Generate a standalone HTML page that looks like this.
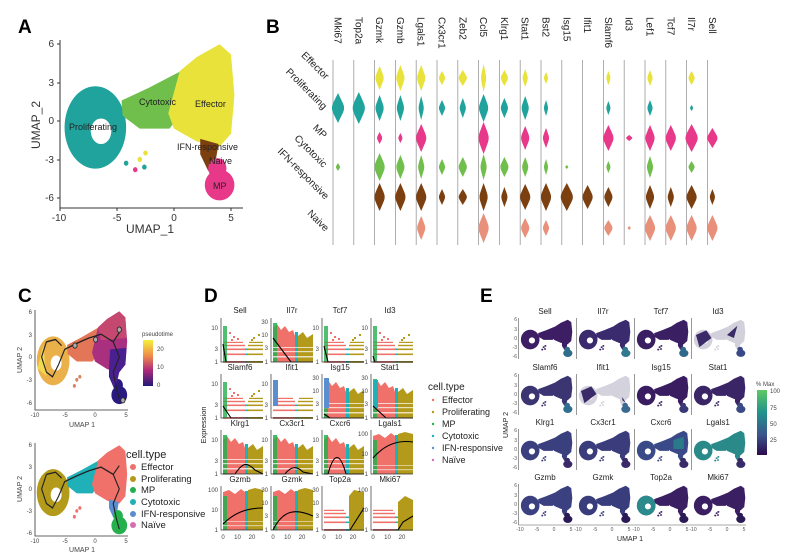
<!DOCTYPE html>
<html><head><meta charset="utf-8"><style>
html,body{margin:0;padding:0;background:#fff;}
svg{display:block;font-family:"Liberation Sans",Arial,sans-serif;}
</style></head><body>
<svg width="800" height="559" viewBox="0 0 800 559" xmlns="http://www.w3.org/2000/svg">
<defs>
<g id="ring"><path fill-rule="evenodd" d="M-9.6,-0.5 a2.6,3.1 0 1,0 5.4,0 a2.6,3.1 0 1,0 -5.4,0 Z M-7.3,-0.8 a0.9,1 0 1,0 1.8,0 a0.9,1 0 1,0 -1.8,0 Z"/></g>
<g id="cyto"><path d="M-4.6,1.6 L-2.2,2.6 L0.6,3.9 L1,1 L-0.4,-0.6 L-3,-0.6 L-4.5,0.4 Z"/></g>
<g id="eff"><path d="M0.5,3.9 L2,5 L4,6 L5,5.2 L5.3,2 L5,-1 L4,-2 L2,-1.6 L0,-0.6 L-0.5,0.6 Z"/></g>
<g id="ifn"><path d="M2.3,-1.4 L3.9,-1.8 L3.6,-3.4 L3,-3.9 L2.3,-2.6 Z"/></g>
<g id="mp"><ellipse cx="4" cy="-5" rx="1.3" ry="1.2"/><ellipse cx="3.8" cy="-3.7" rx="0.8" ry="0.8"/></g>
<g id="um"><use href="#ring"/><use href="#cyto"/><use href="#eff"/><use href="#ifn"/><use href="#mp"/>
<circle cx="-3" cy="-3" r="0.3"/><circle cx="-2.5" cy="-2.6" r="0.3"/><circle cx="-3.4" cy="-3.8" r="0.3"/><circle cx="-2.6" cy="-3.6" r="0.3"/></g>
<path id="v" d="M0,-1 C0.6,-0.5 1.1,-0.15 1,0 C1.1,0.15 0.6,0.5 0,1 C-0.6,0.5 -1.1,0.15 -1,0 C-1.1,-0.15 -0.6,-0.5 0,-1Z"/>
<linearGradient id="pt" x1="0" y1="0" x2="0" y2="1"><stop offset="0" stop-color="#f5f03a"/><stop offset="0.35" stop-color="#ee8a4a"/><stop offset="0.65" stop-color="#b02a7a"/><stop offset="1" stop-color="#221a78"/></linearGradient>
<linearGradient id="vm" x1="0" y1="0" x2="0" y2="1"><stop offset="0" stop-color="#5ec962"/><stop offset="0.35" stop-color="#21918c"/><stop offset="0.7" stop-color="#3b528b"/><stop offset="1" stop-color="#2d0a4e"/></linearGradient>
<!-- D scatter variants (local 42x44) -->
<g id="stripes">
<rect x="2" y="43" width="22" height="1.8" fill="#f0706a"/><rect x="24" y="43" width="3" height="1.8" fill="#1fb0b8"/><rect x="27" y="43" width="15" height="1.8" fill="#b39a1a"/>
<rect x="2" y="35.5" width="22" height="1.6" fill="#f0706a"/><rect x="24" y="35.5" width="3" height="1.6" fill="#1fb0b8"/><rect x="27" y="35.5" width="15" height="1.6" fill="#b39a1a"/>
<rect x="2" y="30.5" width="22" height="1.6" fill="#f0706a"/><rect x="24" y="30.5" width="3" height="1.6" fill="#1fb0b8"/><rect x="27" y="30.5" width="15" height="1.6" fill="#b39a1a"/>
<rect x="2" y="26.8" width="22" height="1.4" fill="#f0706a"/><rect x="27" y="26.8" width="15" height="1.4" fill="#b39a1a"/>
<rect x="2" y="23.8" width="20" height="1.2" fill="#f0706a"/><rect x="28" y="23.8" width="14" height="1.2" fill="#b39a1a"/>
</g>
<g id="ds"><use href="#stripes"/>
<rect x="2" y="8" width="4" height="36" fill="#24b04c" opacity="0.8"/>
<g fill="#f0706a"><rect x="8" y="14" width="2" height="2"/><rect x="12" y="18" width="2" height="2"/><rect x="16" y="20" width="2" height="2"/><rect x="10" y="21" width="2" height="2"/></g>
<g fill="#b39a1a"><rect x="32" y="19" width="2" height="2"/><rect x="37" y="16" width="2" height="2"/><rect x="30" y="21" width="2" height="2"/></g>
</g>
<g id="dm"><path d="M2,44 L2,10 L6,6 L10,12 L14,8 L18,14 L22,12 L24,18 L24,44 Z" fill="#f0706a"/>
<path d="M24,44 V14 H27 V44Z" fill="#1fb0b8"/><path d="M27,44 V18 L32,14 L36,20 L42,16 V44 Z" fill="#b39a1a"/>
<rect x="2" y="5" width="4" height="39" fill="#24b04c" opacity="0.85"/>
<g fill="#fff" opacity="0.7"><rect x="2" y="38" width="40" height="1.5"/><rect x="2" y="33" width="40" height="1.2"/><rect x="2" y="29" width="40" height="1"/></g></g>
<g id="dd"><path d="M2,44 L2,6 L8,4 L14,8 L20,3 L24,6 L24,44 Z" fill="#f0706a"/>
<path d="M24,44 V5 H27 V44Z" fill="#1fb0b8"/><path d="M27,44 V4 L34,2 L42,4 V44 Z" fill="#b39a1a"/>
<rect x="2" y="10" width="4" height="34" fill="#24b04c" opacity="0.85"/>
<g fill="#fff" opacity="0.5"><rect x="2" y="39" width="40" height="1.2"/><rect x="2" y="35" width="40" height="1"/></g></g>
</defs>

<!-- Panel labels -->
<g font-weight="bold" font-size="19" fill="#000">
<text x="18" y="33">A</text><text x="266" y="33">B</text><text x="18" y="302">C</text><text x="204" y="302">D</text><text x="480" y="302">E</text>
</g>

<!-- Panel A -->
<g transform="translate(174,121) scale(11.4,-12.8)">
<use href="#ring" fill="#1fa39c"/><use href="#cyto" fill="#70bf4c"/><use href="#eff" fill="#e8e23a"/><use href="#ifn" fill="#7b3f10"/><use href="#mp" fill="#e8388a"/>
<circle cx="-3" cy="-3" r="0.2" fill="#e8e23a"/><circle cx="-2.5" cy="-2.5" r="0.2" fill="#e8e23a"/><circle cx="-3.4" cy="-3.8" r="0.2" fill="#e8388a"/><circle cx="-2.6" cy="-3.6" r="0.2" fill="#1fa39c"/><circle cx="-4.2" cy="-3.3" r="0.2" fill="#1fa39c"/>
</g>
<g stroke="#333" stroke-width="1" fill="none"><path d="M60,40 V208 H243"/>
<path d="M57,44 h3 M57,83 h3 M57,121 h3 M57,160 h3 M57,198 h3 M60,208 v3 M117,208 v3 M174,208 v3 M231,208 v3"/></g>
<g font-size="10" fill="#333" text-anchor="end"><text x="54" y="47">6</text><text x="54" y="86">3</text><text x="54" y="124">0</text><text x="54" y="163">-3</text><text x="54" y="201">-6</text></g>
<g font-size="10" fill="#333" text-anchor="middle"><text x="59" y="221">-10</text><text x="117" y="221">-5</text><text x="174" y="221">0</text><text x="231" y="221">5</text>
<text x="150" y="233" font-size="12">UMAP_1</text><text transform="translate(40,125) rotate(-90)" font-size="12">UMAP_2</text></g>
<g font-size="9" fill="#222"><text x="69" y="130">Proliferating</text><text x="139" y="105">Cytotoxic</text><text x="195" y="107">Effector</text><text x="177" y="150">IFN-responsive</text><text x="209" y="164">Naive</text><text x="213" y="189">MP</text></g>

<!-- Panel B -->
<path d="M333,60V245h0M353.8,60V245M374.6,60V245M395.4,60V245M416.2,60V245M437,60V245M457.8,60V245M478.6,60V245M499.4,60V245M520.2,60V245M541,60V245M561.8,60V245M582.6,60V245M603.4,60V245M624.2,60V245M645,60V245M665.8,60V245M686.6,60V245M707.4,60V245" stroke="#999" stroke-width="0.8" fill="none"/>
<g font-size="10" fill="#222">
<text transform="translate(334.5,17) rotate(90)">Mki67</text><text transform="translate(355.3,17) rotate(90)">Top2a</text><text transform="translate(376.1,17) rotate(90)">Gzmk</text><text transform="translate(396.9,17) rotate(90)">Gzmb</text><text transform="translate(417.7,17) rotate(90)">Lgals1</text><text transform="translate(438.5,17) rotate(90)">Cx3cr1</text><text transform="translate(459.3,17) rotate(90)">Zeb2</text><text transform="translate(480.1,17) rotate(90)">Ccl5</text><text transform="translate(500.9,17) rotate(90)">Klrg1</text><text transform="translate(521.7,17) rotate(90)">Stat1</text><text transform="translate(542.5,17) rotate(90)">Bst2</text><text transform="translate(563.3,17) rotate(90)">Isg15</text><text transform="translate(584.1,17) rotate(90)">Ifit1</text><text transform="translate(604.9,17) rotate(90)">Slamf6</text><text transform="translate(625.7,17) rotate(90)">Id3</text><text transform="translate(646.5,17) rotate(90)">Lef1</text><text transform="translate(667.3,17) rotate(90)">Tcf7</text><text transform="translate(688.1,17) rotate(90)">Il7r</text><text transform="translate(708.9,17) rotate(90)">Sell</text>
</g>
<!-- Effector y=78 -->
<g fill="#e8e23a">
<use href="#v" transform="translate(379.6,78) scale(4,12)"/><use href="#v" transform="translate(400.4,78) scale(4,13)"/><use href="#v" transform="translate(421.2,78) scale(4,13)"/><use href="#v" transform="translate(442,78) scale(3,7)"/><use href="#v" transform="translate(462.8,78) scale(4,8)"/><use href="#v" transform="translate(483.6,78) scale(2.5,14)"/><use href="#v" transform="translate(504.4,78) scale(3.5,8)"/><use href="#v" transform="translate(525.2,78) scale(2.5,9)"/><use href="#v" transform="translate(546,78) scale(2,6)"/><use href="#v" transform="translate(608.4,78) scale(2,7)"/><use href="#v" transform="translate(650,78) scale(2.5,8)"/><use href="#v" transform="translate(691.6,78) scale(3,7)"/>
</g>
<!-- Proliferating y=108 -->
<g fill="#1fa39c">
<use href="#v" transform="translate(338,108) scale(6,15)"/><use href="#v" transform="translate(358.8,108) scale(6,16)"/><use href="#v" transform="translate(379.6,108) scale(4,13)"/><use href="#v" transform="translate(400.4,108) scale(3.5,13)"/><use href="#v" transform="translate(421.2,108) scale(2.5,12)"/><use href="#v" transform="translate(442,108) scale(3,8)"/><use href="#v" transform="translate(462.8,108) scale(3,10)"/><use href="#v" transform="translate(483.6,108) scale(4.5,14)"/><use href="#v" transform="translate(504.4,108) scale(3.5,10)"/><use href="#v" transform="translate(525.2,108) scale(3.5,12)"/><use href="#v" transform="translate(546,108) scale(2,8)"/><use href="#v" transform="translate(608.4,108) scale(2,7)"/><use href="#v" transform="translate(650,108) scale(2.5,8)"/><use href="#v" transform="translate(691.6,108) scale(1.5,3)"/>
</g>
<!-- MP y=138 -->
<g fill="#e8388a">
<use href="#v" transform="translate(379.6,138) scale(2.5,6)"/><use href="#v" transform="translate(400.4,138) scale(2,5)"/><use href="#v" transform="translate(421.2,138) scale(5,14)"/><use href="#v" transform="translate(483.6,138) scale(5,16)"/><use href="#v" transform="translate(525.2,138) scale(4,12)"/><use href="#v" transform="translate(546,138) scale(3,10)"/><use href="#v" transform="translate(608.4,138) scale(5,13)"/><use href="#v" transform="translate(629.2,138) scale(3,3)"/><use href="#v" transform="translate(650,138) scale(4.5,13)"/><use href="#v" transform="translate(670.8,138) scale(5,13)"/><use href="#v" transform="translate(691.6,138) scale(6,14)"/><use href="#v" transform="translate(712.4,138) scale(5,10)"/>
</g>
<!-- Cytotoxic y=167 -->
<g fill="#70bf4c">
<use href="#v" transform="translate(338,167) scale(2,4)"/><use href="#v" transform="translate(379.6,167) scale(5,14)"/><use href="#v" transform="translate(400.4,167) scale(4,12)"/><use href="#v" transform="translate(421.2,167) scale(3,12)"/><use href="#v" transform="translate(442,167) scale(3,8)"/><use href="#v" transform="translate(462.8,167) scale(4,10)"/><use href="#v" transform="translate(483.6,167) scale(3,13)"/><use href="#v" transform="translate(504.4,167) scale(4,10)"/><use href="#v" transform="translate(525.2,167) scale(3,10)"/><use href="#v" transform="translate(546,167) scale(2,8)"/><use href="#v" transform="translate(566.8,167) scale(1.5,2)"/><use href="#v" transform="translate(608.4,167) scale(2,6)"/><use href="#v" transform="translate(650,167) scale(3,11)"/><use href="#v" transform="translate(691.6,167) scale(3,6)"/>
</g>
<!-- IFN y=197 -->
<g fill="#7b3f10">
<use href="#v" transform="translate(379.6,197) scale(5,14)"/><use href="#v" transform="translate(400.4,197) scale(5,14)"/><use href="#v" transform="translate(421.2,197) scale(5,14)"/><use href="#v" transform="translate(442,197) scale(3,8)"/><use href="#v" transform="translate(462.8,197) scale(4,8)"/><use href="#v" transform="translate(483.6,197) scale(4,14)"/><use href="#v" transform="translate(504.4,197) scale(3,10)"/><use href="#v" transform="translate(525.2,197) scale(5,13)"/><use href="#v" transform="translate(546,197) scale(5,14)"/><use href="#v" transform="translate(566.8,197) scale(6,14)"/><use href="#v" transform="translate(587.6,197) scale(5,12)"/><use href="#v" transform="translate(608.4,197) scale(4,10)"/><use href="#v" transform="translate(650,197) scale(4,12)"/><use href="#v" transform="translate(670.8,197) scale(3,10)"/><use href="#v" transform="translate(691.6,197) scale(5,12)"/><use href="#v" transform="translate(712.4,197) scale(2.5,8)"/>
</g>
<!-- Naive y=228 -->
<g fill="#e8907a">
<use href="#v" transform="translate(421.2,228) scale(4,12)"/><use href="#v" transform="translate(483.6,228) scale(5,15)"/><use href="#v" transform="translate(525.2,228) scale(4,10)"/><use href="#v" transform="translate(546,228) scale(3,8)"/><use href="#v" transform="translate(608.4,228) scale(4,8)"/><use href="#v" transform="translate(629.2,228) scale(1.5,2)"/><use href="#v" transform="translate(650,228) scale(5,13)"/><use href="#v" transform="translate(670.8,228) scale(5,13)"/><use href="#v" transform="translate(691.6,228) scale(5,13)"/><use href="#v" transform="translate(712.4,228) scale(5,13)"/>
</g>
<g font-size="10" fill="#222" text-anchor="end">
<text transform="translate(325,80) rotate(45)">Effector</text>
<text transform="translate(323,110) rotate(45)">Proliferating</text>
<text transform="translate(323,139) rotate(45)">MP</text>
<text transform="translate(323,168) rotate(45)">Cytotoxic</text>
<text transform="translate(325,200) rotate(45)">IFN-responsive</text>
<text transform="translate(325,232) rotate(45)">Naive</text>
</g>

<!-- Panel C top -->
<g transform="translate(95,357) scale(6.07,-7.6)">
<use href="#ring" fill="#eab04a"/><use href="#cyto" fill="#e27656"/><use href="#eff" fill="#a8307e"/><use href="#ifn" fill="#3a1f8a"/><use href="#mp" fill="#2a1a80"/>
<path d="M0.5,3.9 L2,5 L4,6 L5,5.2 L5.2,2.5 L1,2.2 Z" fill="#c54870"/>
<path d="M2.5,1 L5.2,1.2 L5,-1 L4,-2 L3.6,-3.4 L3,-3.9 L2.3,-1.5 Z" fill="#4a2090"/>
<path d="M-9.5,-1.5 L-8.5,1.5 L-8,-2.5 Z" fill="#f0d850"/>
<g fill="#d88060"><circle cx="-3" cy="-3" r="0.25"/><circle cx="-2.5" cy="-2.6" r="0.25"/><circle cx="-3.4" cy="-3.8" r="0.25"/></g>
<path d="M-8,2 L-8.8,0 L-8,-2 L-7,-2.6 L-6,-1 L-5,1 L-3,1.8 L-1,2.5 L1,3 L3,2 L4,3.2 M3,2 L4,0 L3,-2 L3.5,-4 L4,-5.5 M-8,2 L-6.5,2.3 L-5.5,1.5" fill="none" stroke="#222" stroke-width="0.18"/>
<g fill="#aaa" stroke="#222" stroke-width="0.12"><circle cx="-3.3" cy="1.5" r="0.35"/><circle cx="0.1" cy="2.3" r="0.35"/><circle cx="4" cy="3.6" r="0.35"/><circle cx="4.6" cy="-5.7" r="0.35"/></g>
</g>
<g stroke="#333" stroke-width="0.8" fill="none"><path d="M35,310 V410 H128"/></g>
<g font-size="6" fill="#444" text-anchor="end"><text x="32" y="314">6</text><text x="32" y="337">3</text><text x="32" y="359">0</text><text x="32" y="382">-3</text><text x="32" y="405">-6</text></g>
<g font-size="6" fill="#444" text-anchor="middle"><text x="35" y="417">-10</text><text x="65" y="417">-5</text><text x="95" y="417">0</text><text x="126" y="417">5</text>
<text x="82" y="427" font-size="7">UMAP 1</text><text transform="translate(22,360) rotate(-90)" font-size="7">UMAP 2</text></g>
<rect x="143" y="340" width="10" height="46" fill="url(#pt)"/>
<g font-size="6" fill="#444"><text x="142" y="336">pseudotime</text><text x="157" y="351">20</text><text x="157" y="369">10</text><text x="157" y="387">0</text></g>

<!-- Panel C bottom -->
<g transform="translate(95,489) scale(6.07,-7.3)">
<use href="#ring" fill="#b39a1a"/><use href="#cyto" fill="#1fb0b8"/><use href="#eff" fill="#f0706a"/><use href="#ifn" fill="#5b8ed0"/><use href="#mp" fill="#24b04c"/>
<g fill="#f0706a"><circle cx="-3" cy="-3" r="0.25"/><circle cx="-2.5" cy="-2.6" r="0.25"/><circle cx="-3.4" cy="-3.8" r="0.25"/></g>
<path d="M-8,2 L-8.8,0 L-8,-2 L-7,-2.6 L-6,-1 L-5,1 L-3,1.8 L-1,2.5 L1,3 L3,2 L4,3.2 M3,2 L4,0 L3,-2 L3.5,-4 L4,-5.5 M-8,2 L-6.5,2.3 L-5.5,1.5" fill="none" stroke="#222" stroke-width="0.18"/>
</g>
<g stroke="#333" stroke-width="0.8" fill="none"><path d="M35,443 V536 H128"/></g>
<g font-size="6" fill="#444" text-anchor="end"><text x="32" y="447">6</text><text x="32" y="469">3</text><text x="32" y="491">0</text><text x="32" y="513">-3</text><text x="32" y="535">-6</text></g>
<g font-size="6" fill="#444" text-anchor="middle"><text x="35" y="543">-10</text><text x="65" y="543">-5</text><text x="95" y="543">0</text><text x="126" y="543">5</text>
<text x="82" y="552" font-size="7">UMAP 1</text><text transform="translate(22,489) rotate(-90)" font-size="7">UMAP 2</text></g>
<g font-size="9.5" fill="#222"><text x="126" y="458" font-size="11">cell.type</text>
<circle cx="133" cy="467" r="3" fill="#f0706a"/><text x="141" y="470">Effector</text>
<circle cx="133" cy="479" r="3" fill="#b39a1a"/><text x="141" y="482">Proliferating</text>
<circle cx="133" cy="490" r="3" fill="#24b04c"/><text x="141" y="493">MP</text>
<circle cx="133" cy="502" r="3" fill="#1fb0b8"/><text x="141" y="505">Cytotoxic</text>
<circle cx="133" cy="514" r="3" fill="#5b8ed0"/><text x="141" y="517">IFN-responsive</text>
<circle cx="133" cy="525" r="3" fill="#d570b0"/><text x="141" y="528">Naïve</text></g>

<!-- Panel D -->
<g font-size="6" fill="#444" text-anchor="end">
<!-- row 1 -->
<g transform="translate(221,318)"><use href="#ds"/><path d="M2,26 L5,44 L42,44" stroke="#000" stroke-width="1.1" fill="none"/><path d="M0,0V44H42" stroke="#333" stroke-width="0.7" fill="none"/><text x="-3" y="12">10</text><text x="-3" y="33">3</text><text x="-3" y="46">1</text></g>
<g transform="translate(271,318)"><use href="#dm"/><path d="M2,20 L20,44 L42,44" stroke="#000" stroke-width="1.1" fill="none"/><path d="M0,0V44H42" stroke="#333" stroke-width="0.7" fill="none"/><text x="-3" y="6">30</text><text x="-3" y="19">10</text><text x="-3" y="32">3</text><text x="-3" y="46">1</text></g>
<g transform="translate(322,318)"><use href="#ds"/><path d="M2,28 L6,44 L42,44" stroke="#000" stroke-width="1.1" fill="none"/><path d="M0,0V44H42" stroke="#333" stroke-width="0.7" fill="none"/><text x="-3" y="12">10</text><text x="-3" y="33">3</text><text x="-3" y="46">1</text></g>
<g transform="translate(371,318)"><use href="#ds"/><path d="M2,38 L4,44 L42,44" stroke="#000" stroke-width="1.1" fill="none"/><path d="M0,0V44H42" stroke="#333" stroke-width="0.7" fill="none"/><text x="-3" y="12">10</text><text x="-3" y="33">3</text><text x="-3" y="46">1</text></g>
<!-- row 2 -->
<g transform="translate(221,374)"><use href="#ds"/><path d="M2,32 L10,44 L42,44" stroke="#000" stroke-width="1.1" fill="none"/><path d="M0,0V44H42" stroke="#333" stroke-width="0.7" fill="none"/><text x="-3" y="12">10</text><text x="-3" y="33">3</text><text x="-3" y="46">1</text></g>
<g transform="translate(271,374)"><use href="#stripes"/><rect x="2" y="6" width="5" height="26" fill="#5b8ed0"/><path d="M2,44 L42,44" stroke="#000" stroke-width="1.1" fill="none"/><path d="M0,0V44H42" stroke="#333" stroke-width="0.7" fill="none"/><text x="-3" y="12">10</text><text x="-3" y="33">3</text><text x="-3" y="46">1</text></g>
<g transform="translate(322,374)"><use href="#dm"/><rect x="2" y="4" width="5" height="30" fill="#5b8ed0"/><path d="M2,40 L8,44 L42,44" stroke="#000" stroke-width="1.1" fill="none"/><path d="M0,0V44H42" stroke="#333" stroke-width="0.7" fill="none"/><text x="-3" y="6">30</text><text x="-3" y="19">10</text><text x="-3" y="32">3</text><text x="-3" y="46">1</text></g>
<g transform="translate(371,374)"><use href="#dm"/><rect x="2" y="6" width="5" height="28" fill="#1fb0b8"/><path d="M2,32 L15,44 L42,44" stroke="#000" stroke-width="1.1" fill="none"/><path d="M0,0V44H42" stroke="#333" stroke-width="0.7" fill="none"/><text x="-3" y="6">30</text><text x="-3" y="19">10</text><text x="-3" y="32">3</text><text x="-3" y="46">1</text></g>
<!-- row 3 -->
<g transform="translate(221,430)"><use href="#dm"/><path d="M2,44 L14,44 C22,32 26,32 34,40 L42,44" stroke="#000" stroke-width="1.1" fill="none"/><path d="M0,0V44H42" stroke="#333" stroke-width="0.7" fill="none"/><text x="-3" y="12">10</text><text x="-3" y="33">3</text><text x="-3" y="46">1</text></g>
<g transform="translate(271,430)"><use href="#dm"/><path d="M2,44 L14,44 C20,36 26,36 32,42 L42,44" stroke="#000" stroke-width="1.1" fill="none"/><path d="M0,0V44H42" stroke="#333" stroke-width="0.7" fill="none"/><text x="-3" y="12">10</text><text x="-3" y="33">3</text><text x="-3" y="46">1</text></g>
<g transform="translate(322,430)"><use href="#dm"/><path d="M2,44 L6,44 C12,22 18,22 24,44 L42,44" stroke="#000" stroke-width="1.1" fill="none"/><path d="M0,0V44H42" stroke="#333" stroke-width="0.7" fill="none"/><text x="-3" y="12">10</text><text x="-3" y="33">3</text><text x="-3" y="46">1</text></g>
<g transform="translate(371,430)"><use href="#dd"/><path d="M2,28 C14,14 28,10 42,12" stroke="#000" stroke-width="1.1" fill="none"/><path d="M0,0V44H42" stroke="#333" stroke-width="0.7" fill="none"/><text x="-3" y="6">100</text><text x="-3" y="26">10</text><text x="-3" y="46">1</text></g>
<!-- row 4 -->
<g transform="translate(221,486)"><use href="#dd"/><path d="M2,38 C12,28 24,22 42,22" stroke="#000" stroke-width="1.1" fill="none"/><path d="M0,0V44H42" stroke="#333" stroke-width="0.7" fill="none"/><text x="-3" y="6">100</text><text x="-3" y="26">10</text><text x="-3" y="46">1</text></g>
<g transform="translate(271,486)"><use href="#dd"/><path d="M2,44 C12,24 24,22 42,30" stroke="#000" stroke-width="1.1" fill="none"/><path d="M0,0V44H42" stroke="#333" stroke-width="0.7" fill="none"/><text x="-3" y="6">30</text><text x="-3" y="19">10</text><text x="-3" y="32">3</text><text x="-3" y="46">1</text></g>
<g transform="translate(322,486)"><use href="#stripes"/><path d="M27,44 V10 L32,4 L42,6 V44Z" fill="#b39a1a"/><path d="M2,44 L28,44 L42,22" stroke="#000" stroke-width="1.1" fill="none"/><path d="M0,0V44H42" stroke="#333" stroke-width="0.7" fill="none"/><text x="-3" y="6">30</text><text x="-3" y="19">10</text><text x="-3" y="32">3</text><text x="-3" y="46">1</text></g>
<g transform="translate(371,486)"><use href="#stripes"/><path d="M27,44 V16 L34,10 L42,14 V44Z" fill="#b39a1a"/><path d="M2,44 L27,44 L32,36 L42,30" stroke="#000" stroke-width="1.1" fill="none"/><path d="M0,0V44H42" stroke="#333" stroke-width="0.7" fill="none"/><text x="-3" y="6">100</text><text x="-3" y="26">10</text><text x="-3" y="46">1</text></g>
</g>
<g font-size="6" fill="#444" text-anchor="middle">
<text x="223" y="539">0</text><text x="237.5" y="539">10</text><text x="252" y="539">20</text>
<text x="273" y="539">0</text><text x="287.5" y="539">10</text><text x="302" y="539">20</text>
<text x="324" y="539">0</text><text x="338.5" y="539">10</text><text x="353" y="539">20</text>
<text x="373" y="539">0</text><text x="387.5" y="539">10</text><text x="402" y="539">20</text>
</g>
<g font-size="8" fill="#222" text-anchor="middle">
<text x="240" y="313">Sell</text><text x="292" y="313">Il7r</text><text x="340" y="313">Tcf7</text><text x="390" y="313">Id3</text>
<text x="240" y="370">Slamf6</text><text x="292" y="370">Ifit1</text><text x="340" y="370">Isg15</text><text x="390" y="370">Stat1</text>
<text x="240" y="426">Klrg1</text><text x="292" y="426">Cx3cr1</text><text x="340" y="426">Cxcr6</text><text x="390" y="426">Lgals1</text>
<text x="240" y="482">Gzmb</text><text x="292" y="482">Gzmk</text><text x="340" y="482">Top2a</text><text x="390" y="482">Mki67</text>
<text transform="translate(206,425) rotate(-90)" font-size="7.5">Expression</text></g>
<g font-size="9" fill="#222"><text x="428" y="390" font-size="10">cell.type</text>
<circle cx="433" cy="400" r="1.2" fill="#f0706a"/><text x="442" y="403">Effector</text>
<circle cx="433" cy="412" r="1.2" fill="#b39a1a"/><text x="442" y="415">Proliferating</text>
<circle cx="433" cy="424" r="1.2" fill="#24b04c"/><text x="442" y="427">MP</text>
<circle cx="433" cy="436" r="1.2" fill="#1fb0b8"/><text x="442" y="439">Cytotoxic</text>
<circle cx="433" cy="448" r="1.2" fill="#5b8ed0"/><text x="442" y="451">IFN-responsive</text>
<circle cx="433" cy="460" r="1.2" fill="#d570b0"/><text x="442" y="463">Naïve</text></g>

<!-- Panel E -->
<g>
<g transform="translate(554,338) scale(3.45,-3.05)"><use href="#um" fill="#3d1d63"/><use href="#mp" fill="#2f6d8c"/></g>
<g transform="translate(612,338) scale(3.45,-3.05)"><use href="#um" fill="#3a2a6e"/><use href="#mp" fill="#2f7a8e"/></g>
<g transform="translate(670,338) scale(3.45,-3.05)"><use href="#um" fill="#3a1f62"/><use href="#mp" fill="#2f6a8a"/></g>
<g transform="translate(727,338) scale(3.45,-3.05)"><use href="#um" fill="#d2d0da"/><use href="#mp" fill="#3a4888"/><path d="M-9,1 L-6,2.5 L-4.5,0 L-8,-3 Z M0,1 L3,4 L2,0 Z" fill="#3a2a68"/></g>
<g transform="translate(554,394) scale(3.45,-3.05)"><use href="#um" fill="#3b3572"/><use href="#mp" fill="#2f7090"/></g>
<g transform="translate(612,394) scale(3.45,-3.05)"><use href="#um" fill="#d4d2dc"/><use href="#mp" fill="#3a6a90"/><path d="M-9,1 L-6,2.5 L-4.5,0 L-8,-3 Z M3,-2 L4,-3 L3,-1 Z" fill="#3a2a68"/></g>
<g transform="translate(670,394) scale(3.45,-3.05)"><use href="#um" fill="#3a1c60"/><use href="#mp" fill="#3a3a78"/></g>
<g transform="translate(727,394) scale(3.45,-3.05)"><use href="#um" fill="#3a2566"/><use href="#mp" fill="#3a4a84"/></g>
<g transform="translate(554,449) scale(3.45,-3.05)"><use href="#um" fill="#3a3f7e"/><use href="#mp" fill="#3a2a68"/></g>
<g transform="translate(612,449) scale(3.45,-3.05)"><use href="#um" fill="#3a3c7c"/><use href="#mp" fill="#3a2a68"/></g>
<g transform="translate(670,449) scale(3.45,-3.05)"><use href="#um" fill="#3a4a88"/><use href="#mp" fill="#3a2a68"/><path d="M1,3 L4,4 L4,0 L1,0 Z" fill="#2a7a8a"/></g>
<g transform="translate(727,449) scale(3.45,-3.05)"><use href="#um" fill="#2a8a8a"/><use href="#mp" fill="#3a2a68"/></g>
<g transform="translate(554,504) scale(3.45,-3.05)"><use href="#um" fill="#3b4180"/><use href="#mp" fill="#2a1a55"/></g>
<g transform="translate(612,504) scale(3.45,-3.05)"><use href="#um" fill="#3a3d7c"/><use href="#mp" fill="#2a1a55"/></g>
<g transform="translate(670,504) scale(3.45,-3.05)"><use href="#um" fill="#3a1f62"/><use href="#mp" fill="#2a1a55"/><use href="#ring" fill="#2a8a8c"/></g>
<g transform="translate(727,504) scale(3.45,-3.05)"><use href="#um" fill="#3a1f62"/><use href="#mp" fill="#2a1a55"/></g>
</g>
<path d="M518.5,318V359M576.5,318V359M634.5,318V359M691.5,318V359M518.5,374V415M576.5,374V415M634.5,374V415M691.5,374V415M518.5,429V470M576.5,429V470M634.5,429V470M691.5,429V470M518.5,484V525H746" stroke="#555" stroke-width="0.6" fill="none"/>
<g font-size="5" fill="#555" text-anchor="end">
<text x="517" y="321">6</text><text x="517" y="331">3</text><text x="517" y="340">0</text><text x="517" y="349">-3</text><text x="517" y="358">-6</text>
<text x="517" y="377">6</text><text x="517" y="387">3</text><text x="517" y="396">0</text><text x="517" y="405">-3</text><text x="517" y="414">-6</text>
<text x="517" y="432">6</text><text x="517" y="442">3</text><text x="517" y="451">0</text><text x="517" y="460">-3</text><text x="517" y="469">-6</text>
<text x="517" y="487">6</text><text x="517" y="497">3</text><text x="517" y="506">0</text><text x="517" y="515">-3</text><text x="517" y="524">-6</text>
</g>
<g font-size="5" fill="#555" text-anchor="middle">
<text x="520" y="531">-10</text><text x="537" y="531">-5</text><text x="554" y="531">0</text><text x="571" y="531">5</text>
<text x="578" y="531">-10</text><text x="595" y="531">-5</text><text x="612" y="531">0</text><text x="629" y="531">5</text>
<text x="636" y="531">-10</text><text x="653" y="531">-5</text><text x="670" y="531">0</text><text x="687" y="531">5</text>
<text x="693" y="531">-10</text><text x="710" y="531">-5</text><text x="727" y="531">0</text><text x="744" y="531">5</text>
</g>
<g font-size="8" fill="#222" text-anchor="middle">
<text x="545" y="314">Sell</text><text x="603" y="314">Il7r</text><text x="661" y="314">Tcf7</text><text x="718" y="314">Id3</text>
<text x="545" y="370">Slamf6</text><text x="603" y="370">Ifit1</text><text x="661" y="370">Isg15</text><text x="718" y="370">Stat1</text>
<text x="545" y="425">Klrg1</text><text x="603" y="425">Cx3cr1</text><text x="661" y="425">Cxcr6</text><text x="718" y="425">Lgals1</text>
<text x="545" y="480">Gzmb</text><text x="603" y="480">Gzmk</text><text x="661" y="480">Top2a</text><text x="718" y="480">Mki67</text>
<text x="630" y="541" font-size="7">UMAP 1</text><text transform="translate(508,425) rotate(-90)" font-size="7">UMAP 2</text></g>
<rect x="757" y="390" width="10" height="65" fill="url(#vm)"/>
<g font-size="6" fill="#444"><text x="756" y="386">% Max</text><text x="770" y="393">100</text><text x="770" y="410">75</text><text x="770" y="426">50</text><text x="770" y="442">25</text></g>
</svg>
</body></html>
